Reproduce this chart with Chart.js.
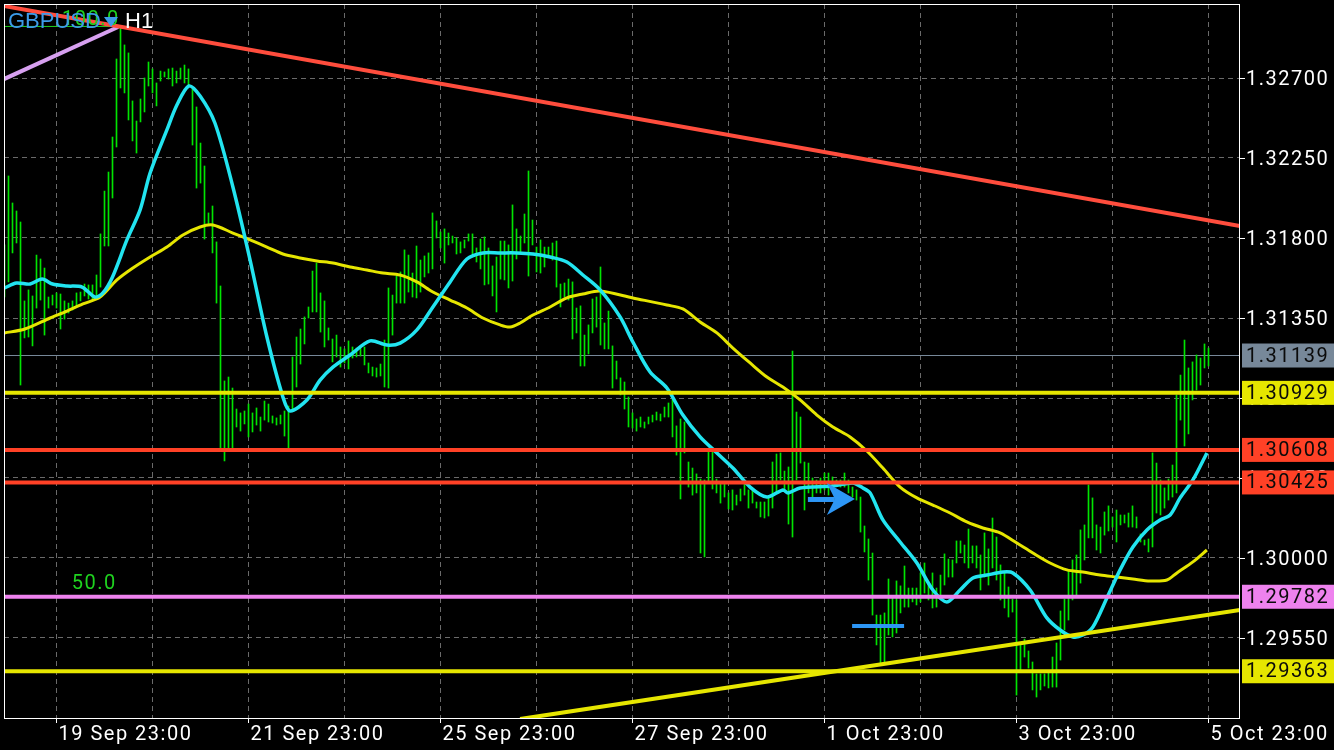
<!DOCTYPE html>
<html lang="en">
<head>
<meta charset="UTF-8">
<title>GBPUSD H1</title>
<style>
  html, body { margin: 0; padding: 0; background: #000; overflow: hidden; }
  #chart { display: block; }
</style>
<script src="https://cdn.jsdelivr.net/npm/chart.js"></script>
</head>
<body>
<canvas id="chart" width="1334" height="750"></canvas>
<script>
// H1 bars, index 0 = first visible bar (high / low only, the bars are 1px wide)
const highs = [
  1.31761, 1.32149, 1.31997, 1.31952, 1.31890, 1.31446, 1.31508, 1.31474, 1.31704, 1.31682,
  1.31631, 1.31468, 1.31479, 1.31491, 1.31485, 1.31446, 1.31434, 1.31446, 1.31491, 1.31496,
  1.31541, 1.31536, 1.31536, 1.31592, 1.31823, 1.32064, 1.32171, 1.32368, 1.32807, 1.32987,
  1.32886, 1.32841, 1.32571, 1.32458, 1.32582, 1.32700, 1.32790, 1.32751, 1.32672, 1.32739,
  1.32734, 1.32751, 1.32756, 1.32739, 1.32756, 1.32773, 1.32751, 1.32649, 1.32537, 1.32334,
  1.32205, 1.31941, 1.31980, 1.31778, 1.31530, 1.30996, 1.31018, 1.30956, 1.30838, 1.30816,
  1.30827, 1.30866, 1.30816, 1.30844, 1.30793, 1.30883, 1.30866, 1.30799, 1.30788, 1.30804,
  1.30827, 1.30855, 1.31131, 1.31243, 1.31288, 1.31356, 1.31412, 1.31614, 1.31659, 1.31491,
  1.31446, 1.31294, 1.31232, 1.31254, 1.31187, 1.31176, 1.31221, 1.31187, 1.31181, 1.31187,
  1.31187, 1.31097, 1.31074, 1.31069, 1.31091, 1.31226, 1.31519, 1.31479, 1.31586, 1.31609,
  1.31733, 1.31704, 1.31603, 1.31755, 1.31676, 1.31699, 1.31716, 1.31941, 1.31896, 1.31834,
  1.31851, 1.31828, 1.31811, 1.31800, 1.31778, 1.31789, 1.31823, 1.31823, 1.31744, 1.31794,
  1.31806, 1.31744, 1.31643, 1.31693, 1.31783, 1.31783, 1.31761, 1.31986, 1.31851, 1.31811,
  1.31935, 1.32177, 1.31901, 1.31749, 1.31789, 1.31749, 1.31749, 1.31772, 1.31783, 1.31541,
  1.31547, 1.31569, 1.31553, 1.31406, 1.31418, 1.31254, 1.31311, 1.31457, 1.31468, 1.31637,
  1.31322, 1.31389, 1.31193, 1.31108, 1.31013, 1.30990, 1.30906, 1.30816, 1.30782, 1.30793,
  1.30765, 1.30793, 1.30804, 1.30821, 1.30810, 1.30849, 1.30872, 1.30894, 1.30743, 1.30782,
  1.30765, 1.30540, 1.30506, 1.30473, 1.30444, 1.30439, 1.30596, 1.30608, 1.30444, 1.30416,
  1.30422, 1.30366, 1.30383, 1.30354, 1.30388, 1.30416, 1.30383, 1.30383, 1.30315, 1.30315,
  1.30315, 1.30343, 1.30540, 1.30585, 1.30591, 1.30489, 1.30512, 1.31164, 1.30821, 1.30793,
  1.30540, 1.30534, 1.30450, 1.30439, 1.30450, 1.30478, 1.30478, 1.30456, 1.30439, 1.30439,
  1.30478, 1.30439, 1.30399, 1.30383, 1.30343, 1.30180, 1.30107, 1.30028, 1.29679, 1.29679,
  1.29691, 1.29882, 1.29775, 1.29871, 1.29843, 1.29955, 1.29831, 1.29831, 1.29831, 1.29916,
  1.29972, 1.29865, 1.29916, 1.29831, 1.29904, 1.30023, 1.29994, 1.29989, 1.30096, 1.30096,
  1.30073, 1.30163, 1.30068, 1.30068, 1.30017, 1.30141, 1.30051, 1.30225, 1.30118, 1.29961,
  1.29916, 1.29837, 1.29769, 1.29764, 1.29522, 1.29544, 1.29477, 1.29415, 1.29348, 1.29348,
  1.29348, 1.29353, 1.29443, 1.29522, 1.29702, 1.29769, 1.29933, 1.29989, 1.30017, 1.30158,
  1.30186, 1.30411, 1.30338, 1.30186, 1.30174, 1.30259, 1.30293, 1.30231, 1.30270, 1.30242,
  1.30242, 1.30253, 1.30293, 1.30231, 1.30135, 1.30101, 1.30107, 1.30591, 1.30534, 1.30439,
  1.30394, 1.30444, 1.30523, 1.30917, 1.31029, 1.31226, 1.31069, 1.31103, 1.31142, 1.31125,
  1.31204, 1.31181
];
const lows = [
  1.31468, 1.31553, 1.31716, 1.31772, 1.30973, 1.31238, 1.31243, 1.31193, 1.31406, 1.31451,
  1.31254, 1.31406, 1.31423, 1.31406, 1.31288, 1.31344, 1.31378, 1.31395, 1.31412, 1.31446,
  1.31474, 1.31457, 1.31457, 1.31468, 1.31524, 1.31755, 1.31755, 1.32025, 1.32312, 1.32644,
  1.32616, 1.32464, 1.32346, 1.32278, 1.32453, 1.32509, 1.32655, 1.32616, 1.32543, 1.32683,
  1.32706, 1.32694, 1.32655, 1.32672, 1.32694, 1.32672, 1.32661, 1.32323, 1.32081, 1.32109,
  1.31794, 1.31873, 1.31716, 1.31434, 1.30610, 1.30546, 1.30610, 1.30620, 1.30737, 1.30714,
  1.30754, 1.30681, 1.30709, 1.30748, 1.30714, 1.30776, 1.30765, 1.30759, 1.30748, 1.30754,
  1.30686, 1.30620, 1.30833, 1.30962, 1.31091, 1.31204, 1.31350, 1.31384, 1.31384, 1.31271,
  1.31187, 1.31226, 1.31103, 1.31131, 1.31074, 1.31097, 1.31063, 1.31125, 1.31131, 1.31136,
  1.31086, 1.31041, 1.31024, 1.31018, 1.31024, 1.30962, 1.30956, 1.31254, 1.31434, 1.31434,
  1.31434, 1.31496, 1.31468, 1.31463, 1.31496, 1.31581, 1.31603, 1.31626, 1.31800, 1.31744,
  1.31659, 1.31761, 1.31772, 1.31710, 1.31716, 1.31744, 1.31783, 1.31710, 1.31665, 1.31626,
  1.31536, 1.31541, 1.31474, 1.31384, 1.31569, 1.31564, 1.31519, 1.31558, 1.31682, 1.31716,
  1.31772, 1.31586, 1.31761, 1.31609, 1.31603, 1.31637, 1.31693, 1.31676, 1.31524, 1.31412,
  1.31468, 1.31451, 1.31232, 1.31266, 1.31080, 1.31080, 1.31148, 1.31266, 1.31299, 1.31198,
  1.31176, 1.31176, 1.30956, 1.31007, 1.30917, 1.30838, 1.30737, 1.30731, 1.30714, 1.30737,
  1.30731, 1.30754, 1.30765, 1.30776, 1.30771, 1.30793, 1.30793, 1.30681, 1.30579, 1.30332,
  1.30591, 1.30399, 1.30354, 1.30366, 1.30028, 1.30006, 1.30422, 1.30388, 1.30366, 1.30309,
  1.30343, 1.30276, 1.30270, 1.30298, 1.30321, 1.30354, 1.30281, 1.30309, 1.30281, 1.30231,
  1.30225, 1.30236, 1.30281, 1.30366, 1.30439, 1.30383, 1.30191, 1.30118, 1.30439, 1.30534,
  1.30270, 1.30366, 1.30343, 1.30366, 1.30366, 1.30383, 1.30354, 1.30399, 1.30411, 1.30399,
  1.30399, 1.30366, 1.30343, 1.30326, 1.30146, 1.30034, 1.29876, 1.29679, 1.29511, 1.29409,
  1.29415, 1.29567, 1.29556, 1.29578, 1.29691, 1.29724, 1.29724, 1.29753, 1.29736, 1.29753,
  1.29803, 1.29764, 1.29719, 1.29724, 1.29781, 1.29848, 1.29893, 1.29893, 1.29972, 1.30028,
  1.29972, 1.29944, 1.29972, 1.29944, 1.29820, 1.29893, 1.29848, 1.29944, 1.29876, 1.29764,
  1.29719, 1.29668, 1.29696, 1.29229, 1.29370, 1.29443, 1.29381, 1.29258, 1.29218, 1.29258,
  1.29280, 1.29269, 1.29274, 1.29274, 1.29426, 1.29595, 1.29651, 1.29764, 1.29781, 1.29859,
  1.29989, 1.30113, 1.30113, 1.30045, 1.30028, 1.30129, 1.30152, 1.30174, 1.30090, 1.30186,
  1.30197, 1.30174, 1.30174, 1.30169, 1.30090, 1.30073, 1.30034, 1.30062, 1.30253, 1.30242,
  1.30281, 1.30326, 1.30343, 1.30366, 1.30776, 1.30630, 1.30698, 1.30889, 1.30945, 1.30973,
  1.31069, 1.31080
];

// fast moving average (cyan), read at these bar positions
const fastMaBars = [
  0, 3, 6.4, 9.4, 12, 15.6, 19.4, 22.6, 24.6, 27, 30.6, 33.9, 36.4, 40.6, 43.1, 46.1, 48.9,
  52.6, 57.1, 61.4, 65.6, 69.6, 71.4, 75.6, 78.9, 82.1, 86.4, 91.4, 95.6, 98.9, 103.1, 107.1,
  111.4, 115.6, 119.6, 123.9, 128.1, 132.1, 136.4, 140.6, 144.6, 148.9, 153.9, 157.1, 161.4,
  165.6, 169.6, 173.9, 178.1, 182.1, 186.4, 190.6, 194.6, 195.9, 198.9, 207.1, 212.1, 214.6,
  216.4, 219.6, 223.9, 228.1, 232.1, 235.6, 238.9, 242.1, 245.6, 249.6, 252.1, 256.4, 260.6,
  263.9, 267.1, 269.6, 272.1, 275.6, 278.9, 282.1, 285.6, 288.9, 291.4, 293.9, 297.1, 300.6
];
const fastMa = [
  1.31519, 1.31547, 1.31541, 1.31569, 1.31541, 1.31530, 1.31524, 1.31468, 1.31491, 1.31581,
  1.31789, 1.31958, 1.32166, 1.32408, 1.32548, 1.32655, 1.32599, 1.32447, 1.32087, 1.31676,
  1.31243, 1.30906, 1.30827, 1.30889, 1.31001, 1.31074, 1.31142, 1.31221, 1.31198, 1.31209,
  1.31283, 1.31412, 1.31553, 1.31682, 1.31716, 1.31716, 1.31716, 1.31710, 1.31693, 1.31665,
  1.31592, 1.31508, 1.31356, 1.31215, 1.31046, 1.30956, 1.30804, 1.30681, 1.30591, 1.30506,
  1.30399, 1.30343, 1.30383, 1.30366, 1.30394, 1.30405, 1.30422, 1.30394, 1.30366, 1.30214,
  1.30090, 1.29972, 1.29820, 1.29753, 1.29820, 1.29888, 1.29904, 1.29921, 1.29916, 1.29820,
  1.29663, 1.29595, 1.29556, 1.29567, 1.29612, 1.29775, 1.29933, 1.30062, 1.30158, 1.30214,
  1.30242, 1.30338, 1.30439, 1.30591
];

// slow moving average (yellow)
const slowMaBars = [
  0, 5.1, 11.4, 15.6, 19.6, 23.9, 28.1, 32.1, 36.4, 40.6, 44.6, 48.9, 52.1, 57.1, 61.4, 65.6,
  69.6, 73.9, 78.1, 82.1, 86.4, 90.6, 94.6, 98.9, 103.1, 107.1, 111.4, 115.6, 119.6, 123.9,
  126.4, 128.9, 132.1, 136.4, 140.6, 144.6, 148.9, 157.1, 165.6, 169.6, 173.9, 178.1, 182.1,
  186.4, 190.6, 194.6, 198.9, 203.1, 207.1, 211.4, 215.6, 219.6, 223.9, 228.1, 232.1, 236.4,
  240.6, 244.6, 248.9, 253.1, 257.1, 261.4, 265.6, 269.6, 273.9, 278.1, 282.1, 286.4, 290.6,
  293.1, 297.1, 300.6
];
const slowMa = [
  1.31266, 1.31288, 1.31350, 1.31389, 1.31429, 1.31468, 1.31564, 1.31631, 1.31693, 1.31749,
  1.31817, 1.31862, 1.31873, 1.31828, 1.31789, 1.31749, 1.31710, 1.31688, 1.31671, 1.31659,
  1.31637, 1.31620, 1.31603, 1.31592, 1.31553, 1.31496, 1.31451, 1.31406, 1.31350, 1.31311,
  1.31299, 1.31322, 1.31367, 1.31412, 1.31463, 1.31485, 1.31502, 1.31463, 1.31423, 1.31401,
  1.31328, 1.31266, 1.31181, 1.31097, 1.31018, 1.30962, 1.30889, 1.30804, 1.30737, 1.30681,
  1.30602, 1.30506, 1.30399, 1.30338, 1.30298, 1.30253, 1.30203, 1.30169, 1.30141, 1.30084,
  1.30028, 1.29972, 1.29933, 1.29921, 1.29904, 1.29893, 1.29882, 1.29871, 1.29876, 1.29916,
  1.29978, 1.30045
];

// axes
const xTickBars = [13, 61, 109, 157, 205, 253, 301];
const xTickLabels = ['19 Sep 23:00', '21 Sep 23:00', '25 Sep 23:00', '27 Sep 23:00',
                     '1 Oct 23:00', '3 Oct 23:00', '5 Oct 23:00'];
const xGridBars = [13, 37, 61, 85, 109, 133, 157, 181, 205, 229, 253, 277, 301];
const yTicks = [1.29550, 1.30000, 1.30450, 1.30900, 1.31350, 1.31800, 1.32250, 1.32700];
const xRange = [-0.125, 308.875];
const yRange = [1.29100, 1.3311625];

// price levels (current bid first)
const levelPrices = [1.31139, 1.30929, 1.30608, 1.30425, 1.29782, 1.29363];

// trend lines: [bar, bar] and [price, price]
const redTrendBars = [-0.125, 308.875];
const redTrend = [1.33105, 1.31868];
const violetTrendBars = [-0.125, 28.4];
const violetTrend = [1.32694, 1.32987];
const supportTrendBars = [128.9, 308.875];
const supportTrend = [1.29094, 1.29708];

// fibo labels and marks
const fibLabels = ['100.0', '50.0'];
const fibPrices = [1.32990, 1.29820];
const fibBars = [14.4, 16.8];
const fib100Bars = [-0.125, 29];
const blueDashBars = [211.9, 224.9];
const blueDashPrice = 1.29618;
const arrowBar = 212.6;
const arrowPrice = 1.30332;

// styles
const levelColors = ['#778899', '#e6e600', '#ff4126', '#ff4126', '#ee82ee', '#e6e600'];
const levelWidths = [1, 4, 4, 4, 4, 4];
const axisFont = '20px Roboto, "Liberation Sans", sans-serif';

const pts = (xs, ys) => xs.map((x, i) => ({ x: x, y: ys[i] }));
const flat = (p) => [{ x: xRange[0], y: p }, { x: xRange[1], y: p }];

const lineSet = (data, color, width, order) => ({
  type: 'line', data: data, borderColor: color, borderWidth: width,
  pointRadius: 0, tension: 0, order: order
});

const datasets = [
  {
    type: 'bar',
    data: highs.map((h, i) => ({ x: i, y: [lows[i], h] })),
    backgroundColor: '#00e400',
    barThickness: 1,
    grouped: false,
    order: 10
  },
  Object.assign(lineSet(pts(slowMaBars, slowMa), '#e6e600', 3, 6), { tension: 0.3 }),
  Object.assign(lineSet(pts(fastMaBars, fastMa), '#22e4f0', 3.5, 5), { tension: 0.3 }),
  lineSet(pts(redTrendBars, redTrend), '#ff4d3d', 4, 2),
  lineSet(pts(violetTrendBars, violetTrend), '#d7a0f0', 4, 2),
  lineSet(pts(supportTrendBars, supportTrend), '#e6e600', 4, 2),
  lineSet(pts(fib100Bars, [fibPrices[0], fibPrices[0]]), '#1fd21f', 1, 3),
  lineSet(pts(blueDashBars, [blueDashPrice, blueDashPrice]), '#2d96f5', 4, 2)
];
levelPrices.forEach((p, i) => {
  datasets.push(lineSet(flat(p), levelColors[i], levelWidths[i], i === 0 ? 20 : 1));
});

const overlay = {
  id: 'overlay',
  afterDatasetsDraw(chart) {
    const { ctx, chartArea: a, scales: { x, y } } = chart;
    ctx.save();

    // frame
    ctx.strokeStyle = '#ffffff';
    ctx.lineWidth = 1;
    ctx.strokeRect(a.left + 0.5, a.top + 0.5, a.right - a.left - 1, a.bottom - a.top);

    ctx.font = axisFont;
    ctx.letterSpacing = '1.5px';

    // price axis
    ctx.textBaseline = 'middle';
    ctx.textAlign = 'left';
    yTicks.forEach(v => {
      const py = Math.round(y.getPixelForValue(v)) + 0.5;
      ctx.beginPath();
      ctx.moveTo(a.right, py);
      ctx.lineTo(a.right + 5, py);
      ctx.stroke();
      ctx.fillStyle = '#ffffff';
      ctx.fillText(v.toFixed(5), a.right + 6, py + 1);
    });
    levelPrices.forEach((p, i) => {
      const py = y.getPixelForValue(p);
      ctx.fillStyle = levelColors[i];
      ctx.fillRect(a.right + 2, py - 12, 100, 24);
      ctx.fillStyle = '#0a0a0a';
      ctx.fillText(p.toFixed(5), a.right + 6, py + 1);
    });

    // time axis
    ctx.textBaseline = 'alphabetic';
    xTickBars.forEach((b, i) => {
      const px = Math.round(x.getPixelForValue(b)) - 0.5;
      ctx.strokeStyle = '#ffffff';
      ctx.beginPath();
      ctx.moveTo(px, a.bottom);
      ctx.lineTo(px, a.bottom + 5);
      ctx.stroke();
      ctx.fillStyle = '#ffffff';
      ctx.fillText(xTickLabels[i], px + 2, a.bottom + 22);
    });

    // fibo level labels
    ctx.fillStyle = '#1fd21f';
    fibLabels.forEach((t, i) => {
      ctx.fillText(t, x.getPixelForValue(fibBars[i]), y.getPixelForValue(fibPrices[i]) - 1);
    });

    // arrow mark
    const tx = x.getPixelForValue(arrowBar);
    const ty = y.getPixelForValue(arrowPrice);
    ctx.fillStyle = '#2d96f5';
    ctx.fillRect(tx - 47, ty - 2, 27, 5);
    ctx.beginPath();
    ctx.moveTo(tx, ty);
    ctx.lineTo(tx - 28, ty - 16);
    ctx.lineTo(tx - 20, ty);
    ctx.lineTo(tx - 28, ty + 16);
    ctx.closePath();
    ctx.fill();

    // symbol header
    ctx.letterSpacing = '0px';
    ctx.font = '22px "Liberation Sans", Arial, sans-serif';
    ctx.fillStyle = '#3d9be9';
    ctx.fillText('GBPUSD', a.left + 4, a.top + 24);
    ctx.beginPath();
    ctx.moveTo(a.left + 100, a.top + 13);
    ctx.lineTo(a.left + 114, a.top + 13);
    ctx.lineTo(a.left + 107, a.top + 23);
    ctx.closePath();
    ctx.fill();
    ctx.fillStyle = '#ffffff';
    ctx.fillText('H1', a.left + 121, a.top + 24);

    ctx.restore();
  }
};

new Chart(document.getElementById('chart'), {
  type: 'bar',
  data: { datasets: datasets },
  options: {
    responsive: false,
    animation: false,
    devicePixelRatio: 1,
    layout: { padding: { left: 4, top: 4, right: 94, bottom: 32 } },
    plugins: { legend: { display: false }, tooltip: { enabled: false } },
    events: [],
    scales: {
      x: {
        type: 'linear',
        min: xRange[0],
        max: xRange[1],
        offset: false,
        ticks: { display: false },
        grid: { color: '#6a6a6a', drawTicks: false, offset: false },
        border: { display: false, dash: [5, 4] },
        afterBuildTicks: s => { s.ticks = xGridBars.map(v => ({ value: v })); }
      },
      y: {
        type: 'linear',
        position: 'right',
        min: yRange[0],
        max: yRange[1],
        ticks: { display: false },
        grid: { color: '#6a6a6a', drawTicks: false },
        border: { display: false, dash: [5, 4] },
        afterBuildTicks: s => { s.ticks = yTicks.map(v => ({ value: v })); }
      }
    }
  },
  plugins: [overlay]
});
</script>
</body>
</html>
